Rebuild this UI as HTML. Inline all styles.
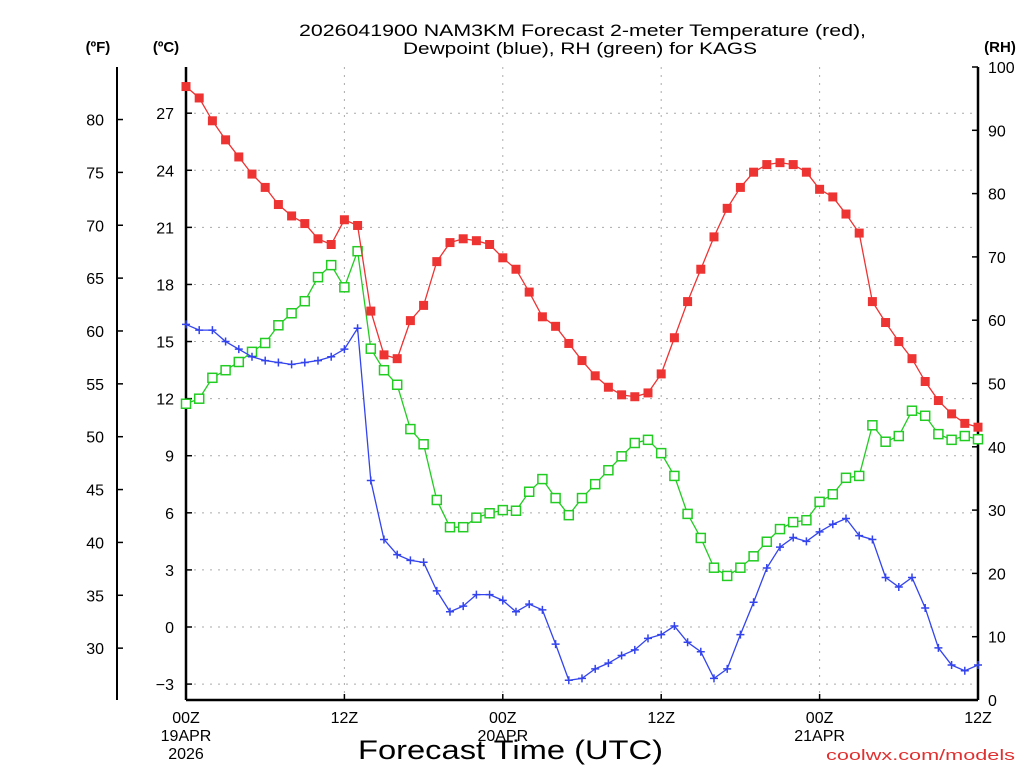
<!DOCTYPE html>
<html><head><meta charset="utf-8"><style>
body{margin:0;background:#fff;width:1024px;height:768px;overflow:hidden}
svg{display:block;font-family:"Liberation Sans",sans-serif}
</style></head><body>
<svg id="c" width="1024" height="768">
<g id="static"></g><g id="marks"></g>
</svg>
<script>
const hours=[...Array(61).keys()];
const tempC=[28.4,27.8,26.6,25.6,24.7,23.8,23.1,22.2,21.6,21.2,20.4,20.1,21.4,21.1,16.6,14.3,14.1,16.1,16.9,19.2,20.2,20.4,20.3,20.1,19.4,18.8,17.6,16.3,15.8,14.9,14.0,13.2,12.6,12.2,12.1,12.3,13.3,15.2,17.1,18.8,20.5,22.0,23.1,23.9,24.3,24.4,24.3,23.9,23.0,22.6,21.7,20.7,17.1,16.0,15.0,14.1,12.9,11.9,11.2,10.7,10.5];
const dewC=[15.9,15.6,15.6,15.0,14.6,14.2,14.0,13.9,13.8,13.9,14.0,14.2,14.6,15.7,7.7,4.6,3.8,3.5,3.4,1.9,0.8,1.1,1.7,1.7,1.4,0.8,1.2,0.9,-0.9,-2.8,-2.7,-2.2,-1.9,-1.5,-1.2,-0.6,-0.4,0.05,-0.8,-1.3,-2.7,-2.2,-0.4,1.3,3.1,4.2,4.7,4.5,5.0,5.4,5.7,4.8,4.6,2.6,2.1,2.6,1.0,-1.1,-2.0,-2.3,-2.0];
const rh=[46.8,47.6,50.9,52.1,53.4,55.0,56.4,59.2,61.1,63.0,66.8,68.7,65.2,70.9,55.5,52.1,49.8,42.8,40.4,31.6,27.3,27.3,28.8,29.5,30.0,29.9,32.9,34.9,31.9,29.2,31.9,34.1,36.3,38.5,40.6,41.1,39.0,35.4,29.4,25.6,20.9,19.6,20.9,22.7,25.0,27.0,28.1,28.4,31.3,32.5,35.1,35.4,43.4,40.8,41.7,45.7,44.9,42.0,41.1,41.7,41.2];
const cTicks=[27,24,21,18,15,12,9,6,3,0,-3];
const fTicks=[80,75,70,65,60,55,50,45,40,35,30];
const rhTicks=[100,90,80,70,60,50,40,30,20,10,0];
const xTicks=[{h:0,l:["00Z","19APR","2026"]},{h:12,l:["12Z"]},{h:24,l:["00Z","20APR"]},{h:36,l:["12Z"]},{h:48,l:["00Z","21APR"]},{h:60,l:["12Z"]}];

const L=186,R=978,T=67,B=700;
const xS=h=>L+(R-L)*h/60;
const yC=c=>627-19.03*c;
const yF=f=>yC((f-32)*5/9);
const yR=r=>B-(B-T)*r/100;
const NS="http://www.w3.org/2000/svg";
function mk(p,tag,a,txt){const e=document.createElementNS(NS,tag);for(const k in a)e.setAttribute(k,a[k]);if(txt!=null)e.textContent=txt;p.appendChild(e);return e;}
const S=document.getElementById('static'),M=document.getElementById('marks');

let t=mk(S,'text',{x:299,y:36,'font-size':17,textLength:567,lengthAdjust:'spacingAndGlyphs'},'2026041900 NAM3KM Forecast 2-meter Temperature (red),');

t=mk(S,'text',{x:403,y:54,'font-size':17,textLength:354,lengthAdjust:'spacingAndGlyphs'},'Dewpoint (blue), RH (green) for KAGS');

t=mk(S,'text',{x:98,y:52,'text-anchor':'middle','font-size':15,'font-weight':'bold'},'(ºF)');

t=mk(S,'text',{x:166,y:52,'text-anchor':'middle','font-size':15,'font-weight':'bold'},'(ºC)');

t=mk(S,'text',{x:1000,y:52,'text-anchor':'middle','font-size':15,'font-weight':'bold'},'(RH)');


cTicks.forEach(c=>{const y=yC(c);
 let g=mk(S,'line',{x1:L,x2:R,y1:y,y2:y,stroke:'#aaa','stroke-dasharray':'2,6'});
 
 mk(S,'line',{x1:L,x2:L+6,y1:y,y2:y,stroke:'#000','stroke-width':1.5});
 let e=mk(S,'text',{x:174,y:y+6,'text-anchor':'end','font-size':16},c<0?'\u2212'+(-c):String(c));
 });
fTicks.forEach(f=>{const y=yF(f);
 mk(S,'line',{x1:117,x2:123,y1:y,y2:y,stroke:'#000','stroke-width':1.5});
 let e=mk(S,'text',{x:104,y:y+6,'text-anchor':'end','font-size':16},String(f));
 });
rhTicks.forEach(r=>{const y=yR(r);
 mk(S,'line',{x1:R-6,x2:R,y1:y,y2:y,stroke:'#000','stroke-width':1.5});
 let e=mk(S,'text',{x:988,y:y+6,'font-size':16},String(r));
 });
xTicks.forEach(o=>{const x=xS(o.h);
 if(o.h>0&&o.h<60){let g=mk(S,'line',{x1:x,x2:x,y1:T,y2:B,stroke:'#aaa','stroke-dasharray':'2,6'});
 }
 mk(S,'line',{x1:x,x2:x,y1:B-6,y2:B,stroke:'#000','stroke-width':1.5});
 o.l.forEach((s,i)=>{let e=mk(S,'text',{x:x,y:723+i*18,'text-anchor':'middle','font-size':16},s);
 });});
mk(S,'line',{x1:117,x2:117,y1:T,y2:B,stroke:'#000','stroke-width':2});
mk(S,'line',{x1:L,x2:L,y1:T,y2:B,stroke:'#000','stroke-width':2.5});
mk(S,'line',{x1:R,x2:R,y1:T,y2:B,stroke:'#000','stroke-width':2.5});
mk(S,'line',{x1:L,x2:R,y1:B,y2:B,stroke:'#000','stroke-width':2.5});
t=mk(S,'text',{x:358,y:759,'font-size':27,textLength:305,lengthAdjust:'spacingAndGlyphs'},'Forecast Time (UTC)');

t=mk(S,'text',{x:826,y:760,'font-size':15,fill:'#e03030',textLength:189,lengthAdjust:'spacingAndGlyphs'},'coolwx.com/models');


function series(vals,yf,color,name){
 const pts=vals.map((v,i)=>xS(hours[i])+','+yf(v)).join(' ');
 const pl=mk(M,'polyline',{points:pts,fill:'none',stroke:color,'stroke-width':1.3});
 
 vals.forEach((v,i)=>{const x=xS(hours[i]),y=yf(v);let e;
  if(name==='temperature'){e=mk(M,'rect',{x:x-4.5,y:y-4.5,width:9,height:9,fill:color});}
  else if(name==='rh'){e=mk(M,'rect',{x:x-4.5,y:y-4.5,width:9,height:9,fill:'#fff',stroke:color,'stroke-width':1.5});}
  else{e=mk(M,'path',{d:`M${x-4},${y}H${x+4}M${x},${y-4}V${y+4}`,stroke:color,'stroke-width':1.5});}
  
  });
}
series(rh,yR,'#22cc22','rh');
series(dewC,yC,'#3344ee','dewpoint');
series(tempC,yC,'#ee3333','temperature');
</script>
</body></html>
